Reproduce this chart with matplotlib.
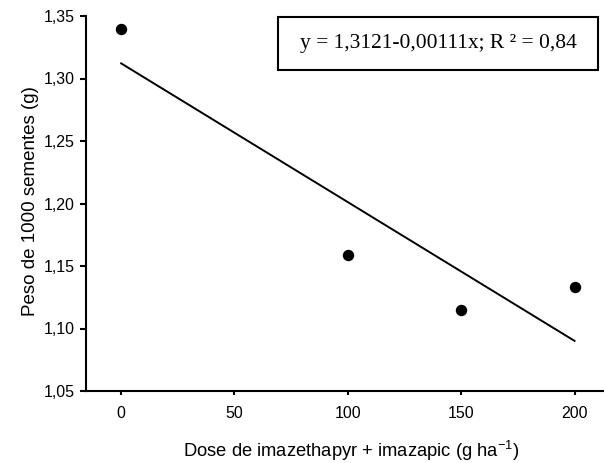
import numpy as np
import matplotlib
matplotlib.use("Agg")
import matplotlib.pyplot as plt
from matplotlib.patches import Rectangle

plt.rcParams['font.family'] = ['Liberation Sans', 'DejaVu Sans']
plt.rcParams['mathtext.fontset'] = 'custom'
plt.rcParams['mathtext.rm'] = 'Liberation Sans'
plt.rcParams['mathtext.it'] = 'Liberation Sans'

# dados
dose = [0, 100, 150, 200]
peso = [1.340, 1.159, 1.115, 1.133]
a, b = 1.3121, -0.00111
xticks = [0, 50, 100, 150, 200]
yticks = [1.05, 1.10, 1.15, 1.20, 1.25, 1.30, 1.35]

W, H = 604, 463
fig = plt.figure(figsize=(W / 100, H / 100), dpi=100)
ax = fig.add_axes([86 / W, 72 / H, (W - 86) / W, (391 - 16) / H])

xr = np.array([0, 200])
ax.plot(xr, a + b * xr, color='black', lw=1.4)
ax.plot(dose, peso, 'o', color='black', markersize=7.2)

ax.set_xlim(-15.5, 213)
ax.set_ylim(1.05, 1.35)
ax.set_xticks(xticks)
ax.set_yticks(yticks)
ax.set_yticklabels([f"{v:.2f}".replace('.', ',') for v in yticks])
ax.spines['top'].set_visible(False)
ax.spines['right'].set_visible(False)
for s in ['left', 'bottom']:
    ax.spines[s].set_linewidth(1.5)
ax.tick_params(direction='out', width=1.5, labelsize=11.5)
ax.tick_params(axis='y', length=4, pad=4)
ax.tick_params(axis='x', length=3, pad=8)

fig.text(351 / W, (H - 457) / H, "Dose de imazethapyr + imazapic (g ha$^{-1}$)",
         fontsize=13.2, ha='center', va='baseline')
fig.text(31 / W, (H - 201.5) / H, "Peso de 1000 sementes (g)",
         fontsize=13.5, rotation=90, ha='center', va='center')

# caixa da equação
ax.add_patch(Rectangle((0.3707, 0.856), 0.9884 - 0.3707, 0.9973 - 0.856,
                       transform=ax.transAxes, facecolor='white', edgecolor='black',
                       lw=1.5, clip_on=False, zorder=3))
ax.text(0.6795, 0.9267, "y = 1,3121-0,00111x; R ² = 0,84", transform=ax.transAxes,
        ha='center', va='center', fontsize=15.5, family='Liberation Serif', zorder=4)

fig.savefig("out.png", dpi=100)
